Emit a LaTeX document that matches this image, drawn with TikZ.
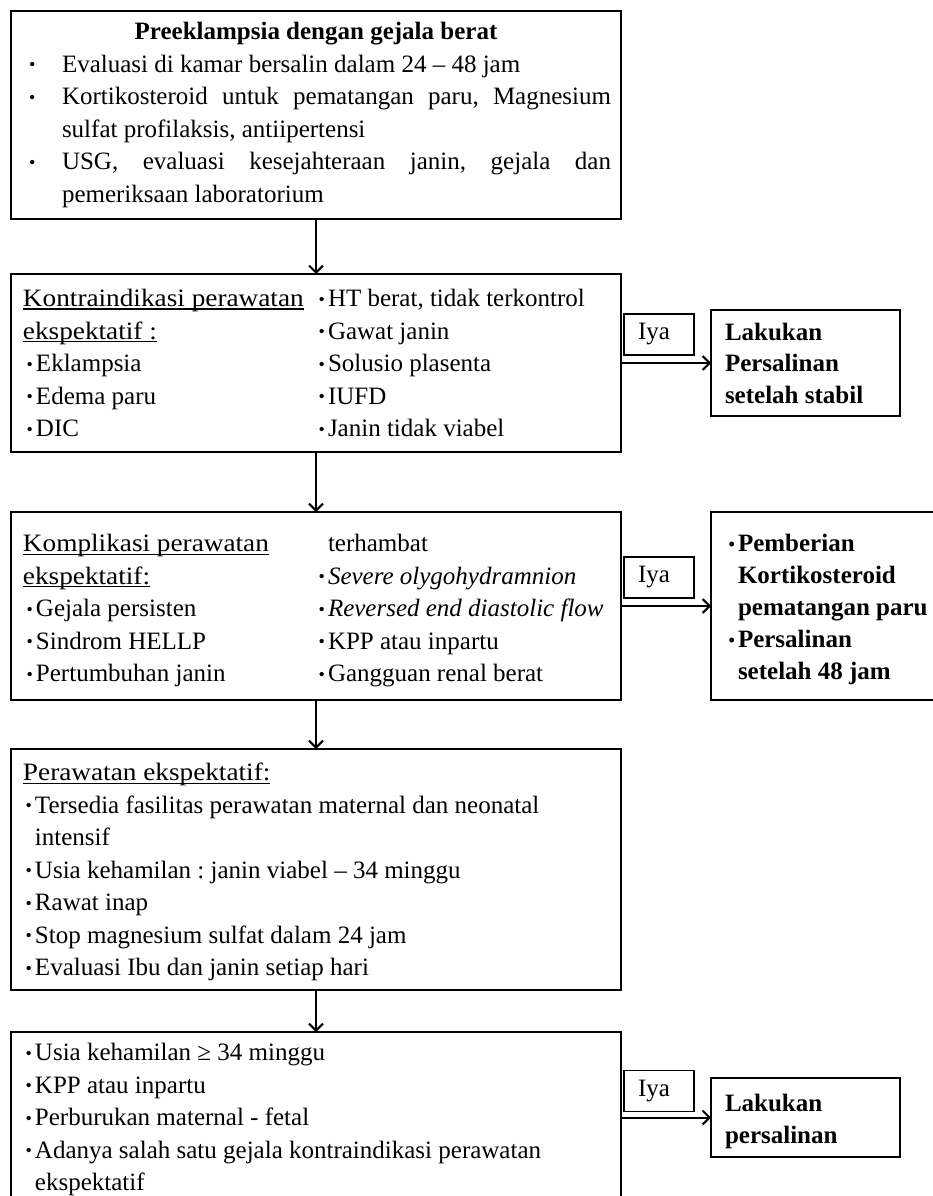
\documentclass[tikz,border=0pt]{standalone}
\usepackage{fontspec}
\setmainfont{Liberation Serif}
\usepackage{graphicx}
\usepackage{tikz}
\usetikzlibrary{positioning,arrows.meta}
\hyphenpenalty=10000
\exhyphenpenalty=10000
\frenchspacing
\newsavebox{\ulnbox}
\newcommand{\uln}[1]{\sbox{\ulnbox}{\scalebox{1.09}[1]{#1}}\rlap{\rule[-3pt]{\wd\ulnbox}{1.2pt}}\usebox{\ulnbox}}
\newcommand{\bdot}{\raisebox{1.5pt}{\fontsize{18}{18}\selectfont •}}
\newcommand{\bul}{\makebox[10pt][l]{\hspace{0.5pt}\bdot}}
\newcommand{\leftcol}[1]{\makebox[295pt][l]{#1}}
\newcommand{\bitem}{\hspace*{8pt}\makebox[33pt][l]{\bdot}}
\newcommand{\justline}[1]{\makebox[549pt][s]{\spaceskip=0pt\xspaceskip=0pt #1}}
\newcommand{\tallstrut}[1]{\rule{0pt}{#1}}
\tikzstyle{mainbox} = [rectangle, draw=black, line width=1.5pt, outer sep=0pt, minimum width=610pt, text width=586pt, inner xsep=12pt, inner ysep=4pt, align=left, font=\fontsize{25}{32.5}\selectfont, execute at begin node={\spaceskip=0pt\xspaceskip=0pt}]
\tikzstyle{sidebox} = [rectangle, draw=black, line width=1.5pt, outer sep=0pt, inner xsep=14pt, inner ysep=4pt, align=left, font=\bfseries\fontsize{25}{31.5}\selectfont, execute at begin node={\spaceskip=0pt\xspaceskip=0pt}]
\tikzstyle{iyabox} = [rectangle, draw=black, line width=1.5pt, outer sep=0pt, minimum width=70pt, minimum height=41pt, text width=42pt, inner xsep=14pt, inner ysep=2pt, align=left, font=\fontsize{25}{30}\selectfont]
\tikzstyle{arrow} = [line width=2pt,-{Straight Barb[length=7pt,width=14pt]}]

\begin{document}
\begin{tikzpicture}[x=1pt,y=-1pt]
\useasboundingbox (0,0) rectangle (932,1196);
\node (severe) [mainbox, minimum height=208pt, text width=590pt, inner xsep=10pt] at (316,115) {\makebox[590pt][c]{\textbf{Preeklampsia dengan gejala berat}}\\
\bitem Evaluasi di kamar bersalin dalam 24 – 48 jam\\
\bitem\justline{Kortikosteroid untuk pematangan paru, Magnesium}\\
\hspace*{41pt}sulfat profilaksis, antiipertensi\\
\bitem\justline{USG, evaluasi kesejahteraan janin, gejala dan}\\
\hspace*{41pt}pemeriksaan laboratorium};
\node (contra) [mainbox, minimum height=178pt, below=55pt of severe] {\leftcol{\uln{Kontraindikasi perawatan}}\bul HT berat, tidak terkontrol\\
\leftcol{\uln{ekspektatif :}}\bul Gawat janin\\
\leftcol{\hspace*{3pt}\bul Eklampsia}\bul Solusio plasenta\\
\leftcol{\hspace*{3pt}\bul Edema paru}\bul IUFD\\
\leftcol{\hspace*{3pt}\bul DIC}\bul Janin tidak viabel};
\node (compl) [mainbox, minimum height=188pt, below=60pt of contra] {\tallstrut{27pt}\leftcol{\uln{Komplikasi perawatan}}\hspace*{10pt}terhambat\\
\leftcol{\uln{ekspektatif:}}\bul\textit{Severe olygohydramnion}\\
\leftcol{\hspace*{3pt}\bul Gejala persisten}\mbox{\bul\textit{Reversed end diastolic flow}}\\
\leftcol{\hspace*{3pt}\bul Sindrom HELLP}\bul KPP atau inpartu\\
\leftcol{\hspace*{3pt}\bul Pertumbuhan janin}\bul Gangguan renal berat};
\node (expect) [mainbox, minimum height=241pt, below=49pt of compl] {\tallstrut{23pt}\uln{Perawatan ekspektatif:}\\
\hspace*{2pt}\bul Tersedia fasilitas perawatan maternal dan neonatal\\
\hspace*{12pt}intensif\\
\hspace*{2pt}\bul Usia kehamilan : janin viabel – 34 minggu\\
\hspace*{2pt}\bul Rawat inap\\
\hspace*{2pt}\bul Stop magnesium sulfat dalam 24 jam\\
\hspace*{2pt}\bul Evaluasi Ibu dan janin setiap hari};
\node (deliver) [mainbox, minimum height=171pt, below=42pt of expect] {\tallstrut{22pt}\hspace*{2pt}\bul Usia kehamilan ≥ 34 minggu\\
\hspace*{2pt}\bul KPP atau inpartu\\
\hspace*{2pt}\bul Perburukan maternal - fetal\\
\hspace*{2pt}\bul Adanya salah satu gejala kontraindikasi perawatan\\
\hspace*{12pt}ekspektatif};

\node (stabil) [sidebox, minimum width=189pt, minimum height=106pt, text width=161pt, right=90pt of contra] {Lakukan\\Persalinan\\setelah stabil};
\node (steroid) [sidebox, minimum width=234pt, minimum height=188pt, text width=206pt, right=90pt of compl, font=\bfseries\fontsize{25}{32}\selectfont] {\tallstrut{25pt}\hspace*{3pt}\bul Pemberian\\\hspace*{13pt}Kortikosteroid\\\hspace*{13pt}pematangan paru\\\hspace*{3pt}\bul Persalinan\\\hspace*{13pt}setelah 48 jam};
\node (labour) [sidebox, minimum width=189pt, minimum height=79pt, text width=161pt, right=90pt of deliver] {\tallstrut{25pt}Lakukan\\persalinan};

\node (iya1) [iyabox, above right=8pt and 3pt of contra.east] {Iya};
\node (iya2) [iyabox, above right=8pt and 3pt of compl.east] {Iya};
\node (iya3) [iyabox, above right=6pt and 3pt of deliver.east] {Iya};

\draw [arrow] (severe) -- (contra);
\draw [arrow] (contra) -- (compl);
\draw [arrow] (compl) -- (expect);
\draw [arrow] (expect) -- (deliver);
\draw [arrow] (contra) -- (stabil);
\draw [arrow] (compl) -- (steroid);
\draw [arrow] (deliver) -- (labour);
\end{tikzpicture}
\end{document}
